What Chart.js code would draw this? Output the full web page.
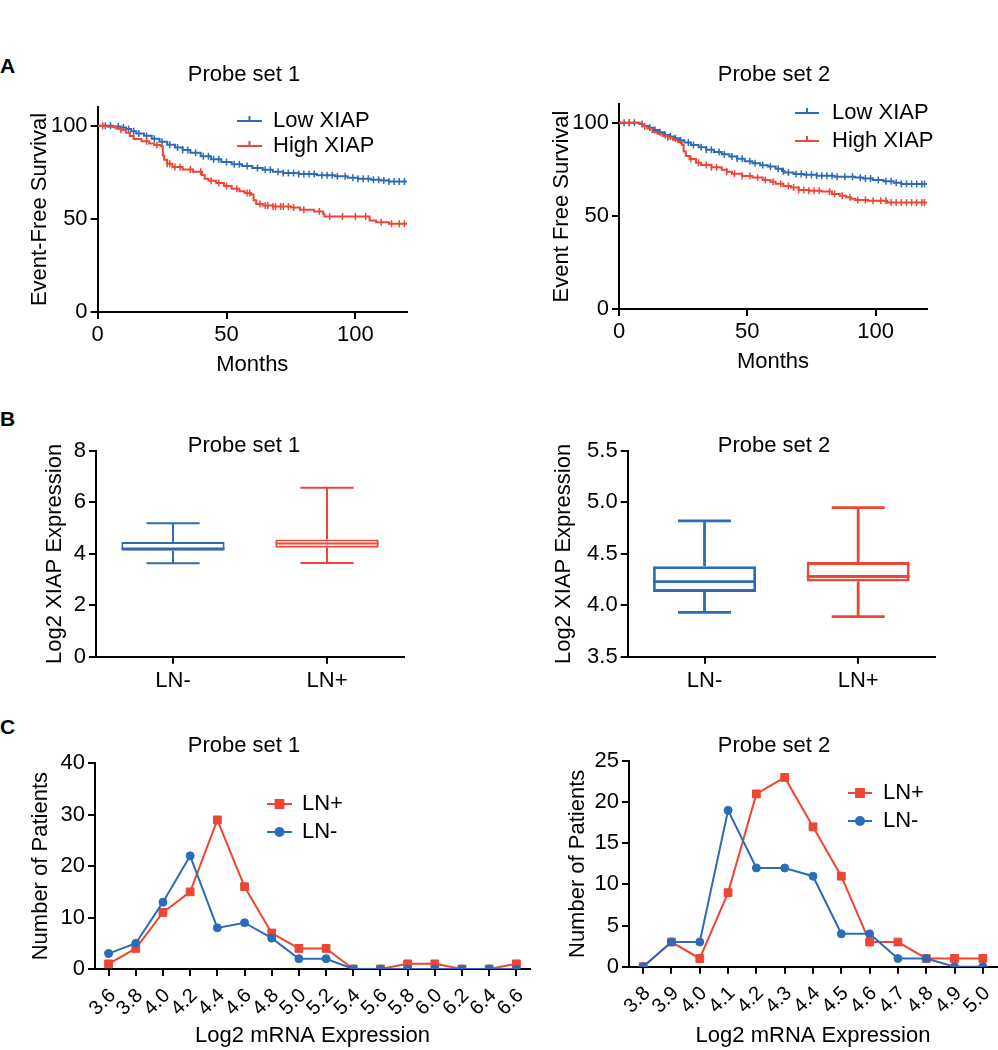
<!DOCTYPE html>
<html>
<head>
<meta charset="utf-8">
<script src="https://cdn.jsdelivr.net/npm/chart.js@4.4.1/dist/chart.umd.min.js"></script>
<style>
  body { margin: 0; background: #fff; width: 998px; height: 1050px; overflow: hidden; position: relative; font-family: "Liberation Sans", Arial, sans-serif; }
  canvas { position: absolute; }
  .tag { position: absolute; left: 0; font-weight: bold; font-size: 21px; line-height: 21px; }
</style>
</head>
<body>
<div class="tag" style="top:55px">A</div>
<div class="tag" style="top:408px">B</div>
<div class="tag" style="top:716px">C</div>

<script>
// colours
const colLow = '#2E6BB7';
const colHigh = '#EE4534';

// A: Kaplan-Meier curves (months, survival %), censored months
const kmMonthsLow1 = [0, 6, 9, 11, 13, 15, 18, 21, 24, 27, 30, 33, 36, 40, 44, 48, 52, 56, 60, 64, 68, 72, 78, 85, 92, 97, 101, 106, 110, 113, 120];
const kmSurvLow1 = [100, 99.5, 99, 98.2, 97, 95.8, 94.6, 93, 91.3, 89.8, 88.3, 86.9, 85.5, 83.6, 82, 80.5, 79.3, 78.3, 77.3, 76.3, 75.3, 74.6, 74, 73.4, 72.8, 72, 71.5, 71, 70.6, 70, 70];
const kmMonthsHigh1 = [0, 4, 7, 9, 11, 12.5, 14, 17, 20, 22, 24.5, 25.3, 25.8, 27, 29, 33, 37, 40.5, 41.5, 43, 46, 49, 52, 55, 57, 59.5, 60.5, 61.5, 64, 68, 75, 78.5, 84, 87.5, 88, 105.5, 108, 113, 120];
const kmSurvHigh1 = [100, 99.4, 98.4, 97.8, 96.2, 94.5, 92.8, 91.6, 90.4, 89.6, 88.9, 84, 81.7, 79.6, 77.8, 76.5, 75.3, 73.5, 71.5, 70.4, 69.2, 67.6, 66.2, 64.8, 63.8, 63, 60, 58, 57.2, 56.6, 56.1, 54.8, 53.9, 52.5, 51.2, 49.1, 48.2, 47.3, 47.3];
const kmCensorLow1 = [3, 5, 8, 10, 12, 14, 16, 19, 22, 25, 28, 31, 33, 35, 38, 41, 43, 45, 47, 50, 53, 55, 58, 62, 65, 67, 70, 72, 74, 76, 78, 80, 82, 84, 87, 89, 91, 93, 96, 99, 101, 103, 105, 107, 109, 111, 113, 115, 117, 119];
const kmCensorHigh1 = [2, 9, 19, 23, 27, 28, 30, 32, 36, 40, 44, 47, 50, 54, 58, 59, 63, 65, 66, 68, 69, 71, 72, 74, 76, 80, 86, 90, 95, 100, 104, 110, 114, 117, 119];

const kmMonthsLow2 = [0, 8, 9.5, 11.5, 13.5, 15.5, 17.5, 19.5, 21.5, 23.5, 25.5, 28, 31, 34, 37, 40, 43, 46, 49, 52, 55, 58, 61, 63.5, 64.5, 68, 72, 77, 84, 92, 95, 99, 103, 107, 110, 120];
const kmSurvLow2 = [100, 99.3, 98.2, 97.2, 96, 94.8, 93.4, 92.6, 91.6, 90.5, 89.3, 88, 86.8, 85.5, 84.2, 83, 81.8, 80.6, 79.3, 78.2, 77.2, 76.4, 75.3, 74, 73.2, 72.5, 72, 71.5, 71, 70.5, 70, 69.2, 68.6, 67.8, 67.1, 67.1];
const kmMonthsHigh2 = [0, 8, 9.5, 11, 13, 15, 17, 19, 21, 23, 24.5, 25.2, 26, 27.5, 30, 32, 36, 40, 42, 44, 48, 52, 56, 59, 61, 64, 67, 70, 74, 79, 83, 86, 88.5, 90.5, 92, 97, 104.5, 120];
const kmSurvHigh2 = [100, 99.3, 98, 96.8, 95, 94, 92.8, 92, 90.8, 89.6, 88, 84.5, 82.1, 80.5, 78.5, 77.3, 76.1, 74.7, 73.6, 72.6, 71.4, 70.5, 69.2, 68.3, 67.2, 66, 65.2, 63.9, 63.5, 63, 61.7, 60.8, 60, 59.2, 58.5, 58.1, 57.1, 57.1];
const kmCensorLow2 = [2, 4, 6, 9, 12, 14, 16, 18, 20, 22, 24, 27, 29, 32, 34, 36, 39, 41, 44, 46, 48, 51, 53, 56, 59, 62, 64, 66, 69, 71, 73, 75, 77, 79, 81, 83, 85, 88, 91, 94, 96, 98, 101, 104, 106, 108, 110, 112, 114, 116, 118, 119];
const kmCensorHigh2 = [4, 10, 19, 28, 31, 34, 36, 38, 42, 45, 48, 51, 54, 57, 60, 63, 66, 68, 70, 72, 74, 76, 78, 82, 84, 87, 90, 93, 96, 99, 102, 104, 106, 108, 110, 112, 114, 116, 118, 119];

// B: box plots (LN-, LN+)
const boxLabels = ['LN-', 'LN+'];
const box1Min = [3.63, 3.64];
const box1Q1 = [4.12, 4.24];
const box1Med = [4.21, 4.40];
const box1Q3 = [4.46, 4.56];
const box1Max = [5.19, 6.57];
const box2Min = [3.93, 3.89];
const box2Q1 = [4.13, 4.23];
const box2Med = [4.23, 4.28];
const box2Q3 = [4.38, 4.42];
const box2Max = [4.82, 4.95];

// C: number of patients per expression bin
const bins1 = ['3.6', '3.8', '4.0', '4.2', '4.4', '4.6', '4.8', '5.0', '5.2', '5.4', '5.6', '5.8', '6.0', '6.2', '6.4', '6.6'];
const lnPos1 = [1, 4, 11, 15, 29, 16, 7, 4, 4, 0, 0, 1, 1, 0, 0, 1];
const lnNeg1 = [3, 5, 13, 22, 8, 9, 6, 2, 2, 0, 0, 0, 0, 0, 0, 0];
const bins2 = ['3.8', '3.9', '4.0', '4.1', '4.2', '4.3', '4.4', '4.5', '4.6', '4.7', '4.8', '4.9', '5.0'];
const lnPos2 = [0, 3, 1, 9, 21, 23, 17, 11, 3, 3, 1, 1, 1];
const lnNeg2 = [0, 3, 3, 19, 12, 12, 11, 4, 4, 1, 1, 0, 0];

const fontFam = "'Liberation Sans', Arial, Helvetica, sans-serif";
Chart.defaults.font.family = fontFam;
Chart.defaults.font.size = 22;
Chart.defaults.color = '#000';
Chart.defaults.animation = false;

// page layout of each panel: canvas [left, top, w, h], plot area [l, r, t, b],
// y title centre x, x title centre y, title centre
const P = {
  km1: { c: [0, 50, 500, 330], a: [97.6, 407, 107, 312], yt: 40, xt: 365, t: [244, 75] },
  km2: { c: [500, 50, 498, 330], a: [619, 927, 104, 309], yt: 562, xt: 362, t: [774, 75] },
  box1: { c: [0, 380, 500, 320], a: [96, 404, 451, 656.7], yt: 55, t: [244, 446] },
  box2: { c: [500, 380, 498, 320], a: [627.7, 935, 451, 656.7], yt: 564, t: [774, 446] },
  hist1: { c: [0, 700, 560, 350], a: [95, 530, 763.3, 969], yt: 41, xt: 1036, t: [244, 746] },
  hist2: { c: [560, 700, 438, 350], a: [629, 997, 761, 966.7], yt: 578, xt: 1036, t: [774, 746] }
};

const panelTitle = {
  id: 'panelTitle',
  afterDraw(chart, args, o) {
    if (!o.text) return;
    const ctx = chart.ctx;
    ctx.save();
    ctx.font = '22px ' + fontFam;
    ctx.fillStyle = '#000';
    ctx.textAlign = 'center';
    ctx.textBaseline = 'middle';
    ctx.fillText(o.text, o.x, o.y);
    ctx.restore();
  }
};

// legend drawn inside the plot: line, marker, label
const innerLegend = {
  id: 'innerLegend',
  afterDraw(chart, args, o) {
    if (!o.items) return;
    const ctx = chart.ctx;
    o.items.forEach((it, i) => {
      const y = o.y + i * o.gap;
      const mx = (o.x1 + o.x2) / 2;
      ctx.save();
      ctx.strokeStyle = it.color;
      ctx.fillStyle = it.color;
      ctx.lineWidth = 2;
      ctx.beginPath();
      ctx.moveTo(o.x1, y);
      ctx.lineTo(o.x2, y);
      if (it.marker === 'tick') {
        ctx.moveTo(mx, y);
        ctx.lineTo(mx, y - 5);
      }
      ctx.stroke();
      if (it.marker !== 'tick') {
        Chart.helpers.drawPoint(ctx, { pointStyle: it.marker, radius: it.radius, borderWidth: 1 }, mx, y);
      }
      ctx.fillStyle = '#000';
      ctx.font = '22px ' + fontFam;
      ctx.textAlign = 'left';
      ctx.textBaseline = 'middle';
      ctx.fillText(it.text, o.tx, y);
      ctx.restore();
    });
  }
};

// whiskers, caps and median for the floating-bar boxes
const boxWhiskers = {
  id: 'boxWhiskers',
  afterDatasetsDraw(chart, args, o) {
    if (!o.min) return;
    const xs = chart.scales.x, ys = chart.scales.y, ctx = chart.ctx;
    const catW = xs.width / chart.data.labels.length;
    const boxes = chart.data.datasets[0].data;
    o.min.forEach((lo, i) => {
      const x = xs.getPixelForValue(i);
      const half = catW * o.boxFrac / 2;
      const cap = catW * o.capFrac / 2;
      const yLo = ys.getPixelForValue(lo), yHi = ys.getPixelForValue(o.max[i]);
      const yQ1 = ys.getPixelForValue(boxes[i][0]), yQ3 = ys.getPixelForValue(boxes[i][1]);
      const yMed = ys.getPixelForValue(o.med[i]);
      ctx.save();
      ctx.strokeStyle = o.colors[i];
      ctx.lineWidth = o.lineWidth;
      ctx.beginPath();
      ctx.moveTo(x, yLo); ctx.lineTo(x, yQ1);
      ctx.moveTo(x, yQ3); ctx.lineTo(x, yHi);
      ctx.moveTo(x - cap, yLo); ctx.lineTo(x + cap, yLo);
      ctx.moveTo(x - cap, yHi); ctx.lineTo(x + cap, yHi);
      ctx.moveTo(x - half, yMed); ctx.lineTo(x + half, yMed);
      ctx.stroke();
      ctx.restore();
    });
  }
};

function makeCanvas(key) {
  const [l, t, w, h] = P[key].c;
  const cv = document.createElement('canvas');
  cv.width = w;
  cv.height = h;
  cv.style.left = l + 'px';
  cv.style.top = t + 'px';
  cv.style.width = w + 'px';
  cv.style.height = h + 'px';
  document.body.appendChild(cv);
  return cv;
}

function axis(extra) {
  return Object.assign({
    grid: { drawOnChartArea: false, drawTicks: true, tickLength: 7, color: '#000', lineWidth: 2 },
    border: { display: true, color: '#000', width: 2 },
  }, extra);
}

function baseOptions(key, scaleX, scaleY, yTitle, xTitle, titleText, legend, extraPlugins) {
  const p = P[key];
  const [cl, ct, cw, ch] = p.c;
  const [al, ar, at, ab] = p.a;
  scaleY.afterFit = s => { s.width = al - cl; s.paddingTop = 0; s.paddingBottom = 0; };
  scaleX.afterFit = s => { s.height = ct + ch - ab; s.paddingLeft = 0; s.paddingRight = 0; };
  scaleY.title = { display: true, text: yTitle, font: { size: 22 }, padding: { top: p.yt - cl - 13.2, bottom: 0 } };
  if (xTitle) {
    scaleX.title = { display: true, text: xTitle, font: { size: 22 }, padding: { top: 0, bottom: ct + ch - p.xt - 13.2 } };
  }
  return {
    responsive: false,
    animation: false,
    devicePixelRatio: 1,
    layout: { autoPadding: false, padding: { left: 0, top: at - ct, right: cl + cw - ar, bottom: 0 } },
    scales: { x: scaleX, y: scaleY },
    plugins: Object.assign({
      legend: { display: false },
      tooltip: { enabled: false },
      panelTitle: { text: titleText, x: p.t[0] - cl, y: p.t[1] - ct },
      innerLegend: legend ? Object.assign({}, legend, {
        x1: legend.x1 - cl, x2: legend.x2 - cl, tx: legend.tx - cl, y: legend.y - ct
      }) : {}
    }, extraPlugins || {})
  };
}

// step lookup so censor ticks sit on the curve
function stepAt(months, surv, t) {
  let v = surv[0];
  for (let i = 0; i < months.length; i++) {
    if (months[i] <= t) v = surv[i];
  }
  return v;
}

function kmSets(months, surv, censor, color, label) {
  return [
    {
      label: label,
      data: months.map((m, i) => ({ x: m, y: surv[i] })),
      borderColor: color,
      borderWidth: 2,
      stepped: true,
      pointRadius: 0,
      fill: false
    },
    {
      label: label + ' (censored)',
      data: censor.map(t => ({ x: t, y: stepAt(months, surv, t) })),
      showLine: false,
      borderColor: color,
      pointStyle: 'line',
      rotation: 90,
      pointRadius: 3.5,
      pointBorderWidth: 1.5
    }
  ];
}

function kmChart(key, low, high, yTitle, titleText, legend) {
  // generate every 10 and keep only 0, 50, 100 so the axis can run past 100
  const keep50 = s => { s.ticks = s.ticks.filter(t => t.value % 50 === 0); };
  const sx = axis({ type: 'linear', min: 0, max: 120, ticks: { stepSize: 10, padding: 3 }, afterBuildTicks: keep50 });
  const sy = axis({ type: 'linear', min: 0, max: 110, ticks: { stepSize: 10, padding: 3 }, afterBuildTicks: keep50 });
  new Chart(makeCanvas(key), {
    type: 'line',
    data: { datasets: kmSets(...high, colHigh, 'High XIAP').concat(kmSets(...low, colLow, 'Low XIAP')) },
    options: baseOptions(key, sx, sy, yTitle, 'Months', titleText, legend),
    plugins: [panelTitle, innerLegend]
  });
}

kmChart('km1', [kmMonthsLow1, kmSurvLow1, kmCensorLow1], [kmMonthsHigh1, kmSurvHigh1, kmCensorHigh1],
  'Event-Free Survival', 'Probe set 1',
  { x1: 237, x2: 262, tx: 273, y: 121, gap: 25, items: [
    { text: 'Low XIAP', color: colLow, marker: 'tick' },
    { text: 'High XIAP', color: colHigh, marker: 'tick' }] });

kmChart('km2', [kmMonthsLow2, kmSurvLow2, kmCensorLow2], [kmMonthsHigh2, kmSurvHigh2, kmCensorHigh2],
  'Event Free Survival', 'Probe set 2',
  { x1: 795, x2: 819, tx: 832, y: 113, gap: 28, items: [
    { text: 'Low XIAP', color: colLow, marker: 'tick' },
    { text: 'High XIAP', color: colHigh, marker: 'tick' }] });

function boxChart(key, q1, q3, lo, med, hi, yMin, yMax, step, decimals, titleText, lw) {
  const sx = axis({ type: 'category', offset: true, ticks: { padding: 4 } });
  sx.grid.offset = false;
  const sy = axis({ type: 'linear', min: yMin, max: yMax, ticks: { stepSize: step, padding: 3, callback: v => v.toFixed(decimals) } });
  new Chart(makeCanvas(key), {
    type: 'bar',
    data: {
      labels: boxLabels,
      datasets: [{
        label: 'Log2 XIAP Expression',
        data: q1.map((v, i) => [v, q3[i]]),
        backgroundColor: '#fff',
        borderColor: [colLow, colHigh],
        borderWidth: lw,
        borderSkipped: false,
        barPercentage: 0.67,
        categoryPercentage: 1
      }]
    },
    options: baseOptions(key, sx, sy, 'Log2 XIAP Expression', null, titleText, null,
      { boxWhiskers: { min: lo, med: med, max: hi, colors: [colLow, colHigh], boxFrac: 0.67, capFrac: 0.345, lineWidth: lw } }),
    plugins: [panelTitle, boxWhiskers]
  });
}

boxChart('box1', box1Q1, box1Q3, box1Min, box1Med, box1Max, 0, 8, 2, 0, 'Probe set 1', 2);
boxChart('box2', box2Q1, box2Q3, box2Min, box2Med, box2Max, 3.5, 5.5, 0.5, 1, 'Probe set 2', 2.8);

function histChart(key, bins, pos, neg, yMax, step, titleText, legend) {
  const sx = axis({ type: 'category', offset: true,
    ticks: { minRotation: 45, maxRotation: 45, padding: 8, labelOffset: 4, autoSkip: false, font: { size: 20 } } });
  const sy = axis({ type: 'linear', min: 0, max: yMax, ticks: { stepSize: step, padding: 3 } });
  new Chart(makeCanvas(key), {
    type: 'line',
    data: {
      labels: bins,
      datasets: [
        { label: 'LN-', data: neg, borderColor: colLow, backgroundColor: colLow, borderWidth: 2,
          pointStyle: 'circle', pointRadius: 4, pointBorderWidth: 1, tension: 0 },
        { label: 'LN+', data: pos, borderColor: colHigh, backgroundColor: colHigh, borderWidth: 2,
          pointStyle: 'rect', pointRadius: 5.5, pointBorderWidth: 1, tension: 0 }
      ]
    },
    options: baseOptions(key, sx, sy, 'Number of Patients', 'Log2 mRNA Expression', titleText, legend),
    plugins: [panelTitle, innerLegend]
  });
}

histChart('hist1', bins1, lnPos1, lnNeg1, 40, 10, 'Probe set 1',
  { x1: 267, x2: 292, tx: 302, y: 804, gap: 28, items: [
    { text: 'LN+', color: colHigh, marker: 'rect', radius: 5.5 },
    { text: 'LN-', color: colLow, marker: 'circle', radius: 4 }] });

histChart('hist2', bins2, lnPos2, lnNeg2, 25, 5, 'Probe set 2',
  { x1: 848, x2: 872, tx: 883, y: 793, gap: 28, items: [
    { text: 'LN+', color: colHigh, marker: 'rect', radius: 5.5 },
    { text: 'LN-', color: colLow, marker: 'circle', radius: 4 }] });
</script>
</body>
</html>
